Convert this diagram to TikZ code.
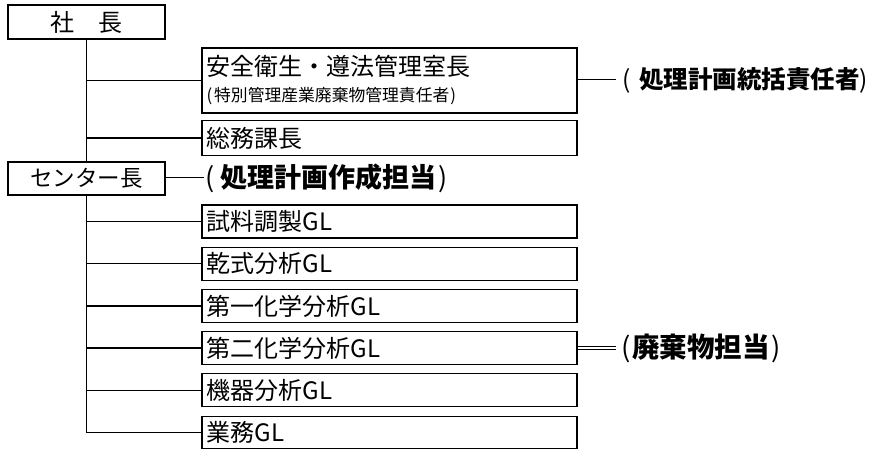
\documentclass[tikz,border=0pt]{standalone}
\usepackage{fontspec}
\setmainfont{Noto Sans CJK JP}
\newcommand{\lp}{{\mdseries(}}
\newcommand{\rp}{{\mdseries)}}
\begin{document}
\begin{tikzpicture}[x=1pt,y=-1pt,
  ln/.style={line width=1.3pt},
  dbl/.style={double, double distance=2pt, line width=0.9pt},
  topbox/.style={draw, line width=1.3pt, minimum width=157pt, minimum height=34pt, inner sep=0pt, font=\fontsize{24}{28}\selectfont},
  wbox/.style={draw, line width=1.3pt, minimum width=375pt, minimum height=34pt, text width=366pt, inner xsep=4.5pt, inner ysep=0pt, align=left, font=\fontsize{24}{28}\selectfont},
  note/.style={anchor=west, inner sep=0pt, font=\fontsize{27}{30}\selectfont\bfseries}]
\useasboundingbox (0,0) rectangle (884,450);
\fill[white] (0,0) rectangle (884,450);

\node[topbox] (shacho) at (86.5,22) {社　長};
\node[wbox, minimum height=65pt] (anzen) at (389.5,80.5) {\raisebox{3pt}{\parbox[c]{366pt}{\raggedright 安全衛生・遵法管理室長\\[-2pt]{\fontsize{16.8}{28}\selectfont(\kern2pt 特別管理産業廃棄物管理責任者\kern1pt)}}}};
\node[wbox, minimum height=35pt] (somu) at (389.5,138) {総務課長};
\node[topbox, minimum height=33pt, font=\fontsize{22.5}{28}\selectfont] (center) at (86.5,178.5) {センター長};

\node[wbox, minimum height=33pt] (c1) at (389.5,221.5) {試料調製GL};
\node[wbox, minimum height=33pt] (c2) at (389.5,263.7) {乾式分析GL};
\node[wbox, minimum height=33pt] (c3) at (389.5,305.9) {第一化学分析GL};
\node[wbox, minimum height=33pt] (c4) at (389.5,348.1) {第二化学分析GL};
\node[wbox, minimum height=33pt] (c5) at (389.5,390.3) {機器分析GL};
\node[wbox, minimum height=32pt] (c6) at (389.5,432.5) {業務GL};

\node[note, font=\fontsize{24.5}{30}\selectfont\bfseries] (a1) at ([xshift=38pt]anzen.east) {\kern7pt\lp\kern8pt 処理計画統括責任者\rp};
\node[note] (a2) at ([xshift=38pt]center.east) {\kern2pt\lp\kern6pt 処理計画作成担当\kern2pt\rp};
\node[note, font=\fontsize{27.5}{30}\selectfont\bfseries] (a3) at ([xshift=38pt]c4.east) {\kern6pt\lp\kern1pt 廃棄物担当\kern2pt\rp};

% trunks and branches
\draw[ln] (shacho.south) -- (center.north);
\draw[ln] (shacho.south |- anzen.west) -- (anzen.west);
\draw[ln] (shacho.south |- somu.west) -- (somu.west);
\draw[ln] (center.south) |- (c6.west);
\foreach \c in {c1,c2,c3,c4,c5}
  \draw[ln] (center.south |- \c.west) -- (\c.west);

% double links to notes
\draw[dbl] (anzen.east) -- (a1.west);
\draw[dbl] (center.east) -- (a2.west);
\draw[dbl] (c4.east) -- (a3.west);
\end{tikzpicture}
\end{document}
